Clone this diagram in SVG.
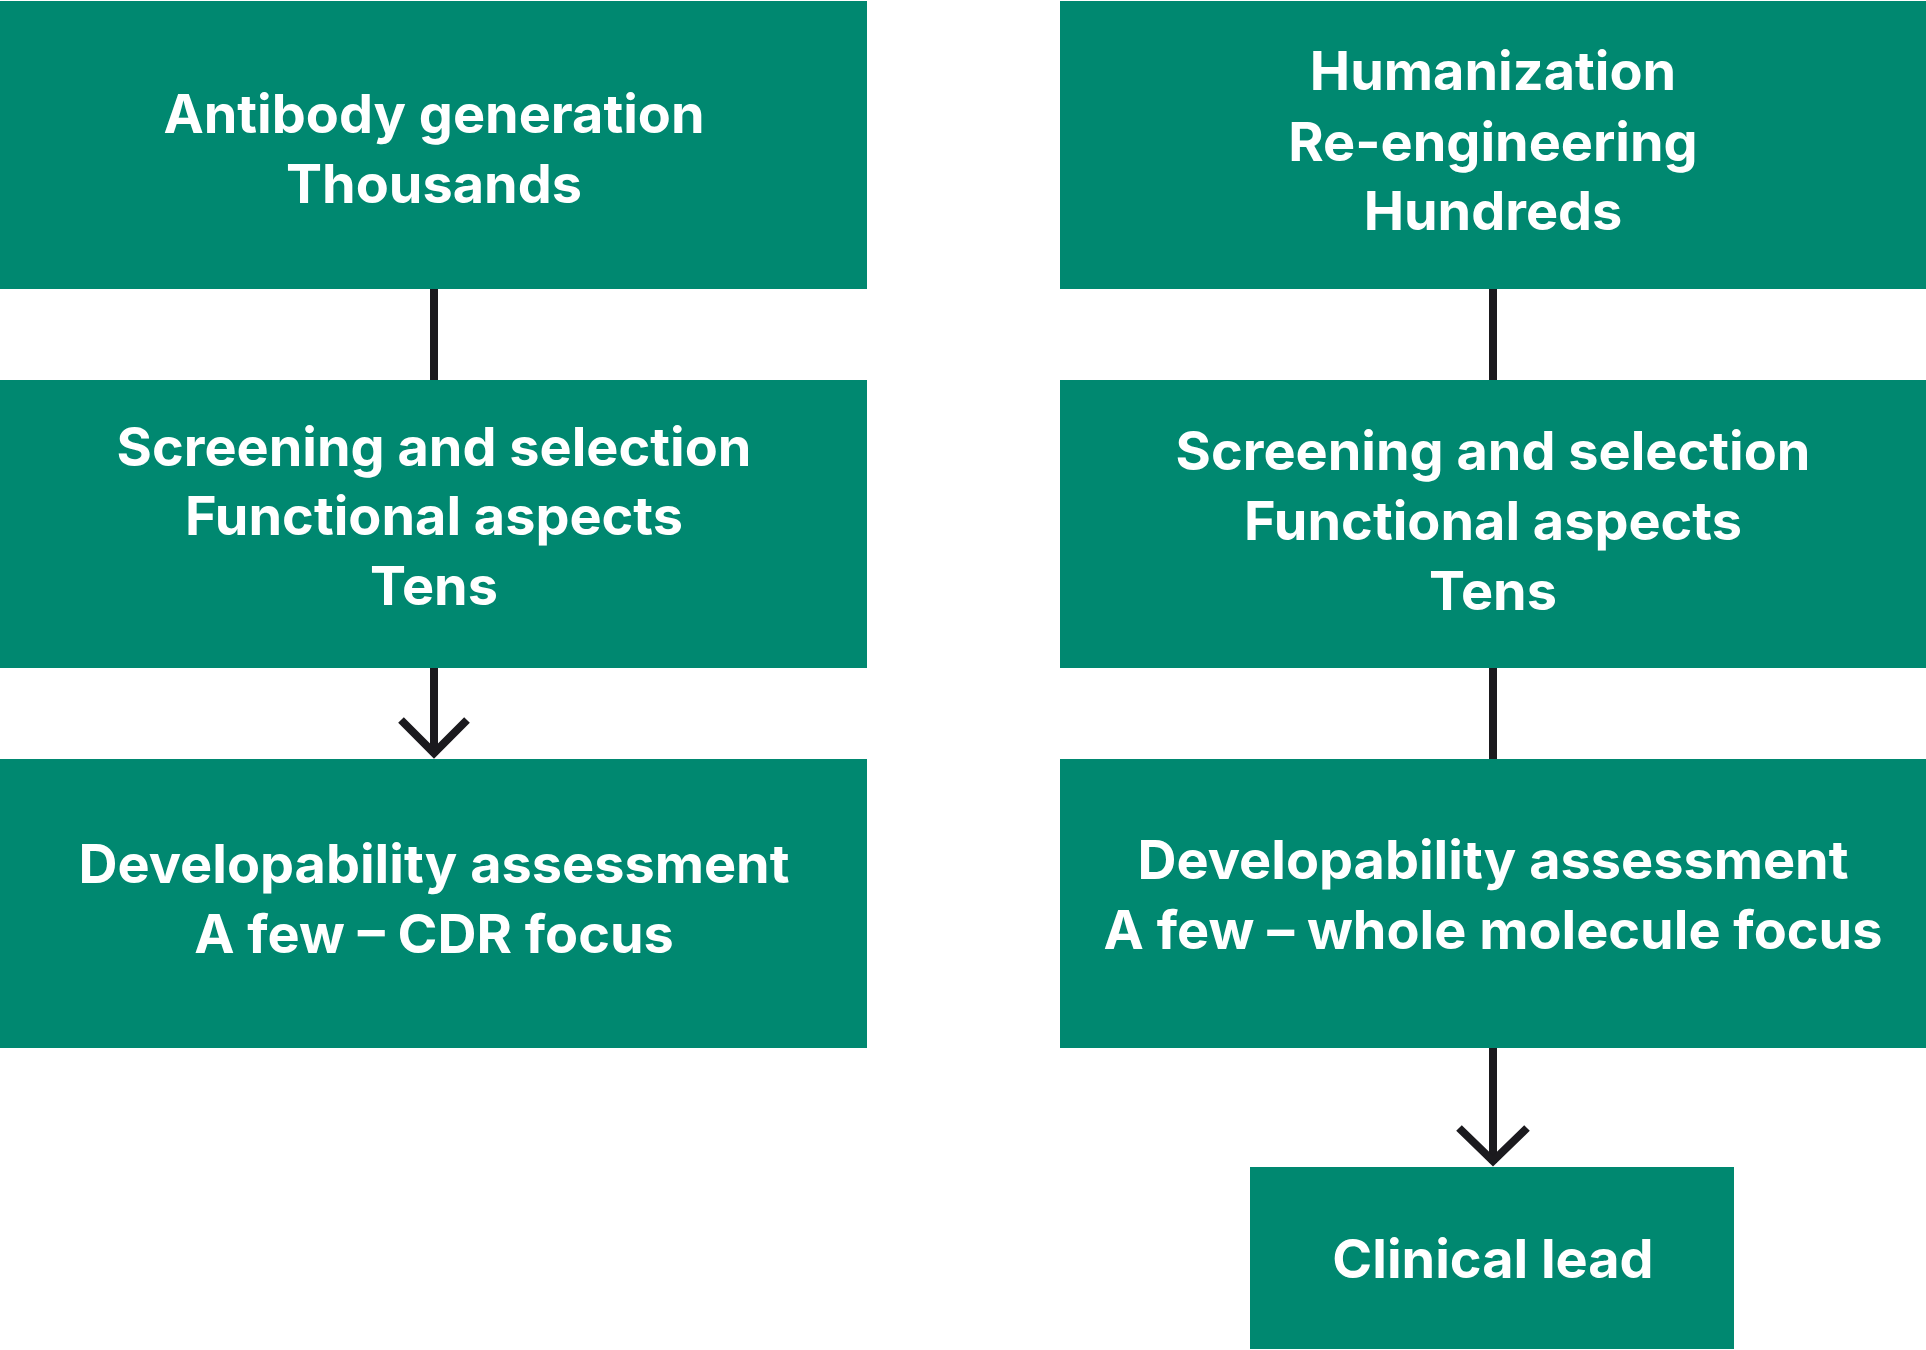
<svg xmlns="http://www.w3.org/2000/svg" width="1926" height="1350" viewBox="0 0 1926 1350">
<style>
.box{fill:#008870}
.t{fill:#ffffff;font-family:Inter,"Noto Sans",sans-serif;font-weight:700;font-size:54px;text-anchor:middle}
.c{stroke:#1b1a1e;stroke-width:8;fill:none;stroke-linejoin:miter;stroke-linecap:butt}
</style>
<rect width="1926" height="1350" fill="#ffffff"/>
<g id="connectors">
<line class="c" x1="434" y1="289" x2="434" y2="380"/>
<line class="c" x1="434" y1="668" x2="434" y2="755"/>
<polyline class="c" points="401,720 434,753 467,720"/>
<line class="c" x1="1493" y1="289" x2="1493" y2="380"/>
<line class="c" x1="1493" y1="668" x2="1493" y2="759"/>
<line class="c" x1="1493" y1="1048" x2="1493" y2="1163"/>
<polyline class="c" points="1459,1128 1493,1161 1527,1128"/>
</g>
<g id="n1"><rect class="box" x="0" y="1" width="867" height="288"/>
<text class="t" x="434" y="133">Antibody generation</text>
<text class="t" x="434" y="203">Thousands</text></g>
<g id="n2"><rect class="box" x="0" y="380" width="867" height="288"/>
<text class="t" x="434" y="466">Screening and selection</text>
<text class="t" x="434" y="535">Functional aspects</text>
<text class="t" x="434" y="605">Tens</text></g>
<g id="n3"><rect class="box" x="0" y="759" width="867" height="289"/>
<text class="t" x="434" y="883">Developability assessment</text>
<text class="t" x="434" y="953">A few – CDR focus</text></g>
<g id="n4"><rect class="box" x="1060" y="1" width="866" height="288"/>
<text class="t" x="1493" y="90">Humanization</text>
<text class="t" x="1493" y="161">Re-engineering</text>
<text class="t" x="1493" y="230">Hundreds</text></g>
<g id="n5"><rect class="box" x="1060" y="380" width="866" height="288"/>
<text class="t" x="1493" y="470">Screening and selection</text>
<text class="t" x="1493" y="540">Functional aspects</text>
<text class="t" x="1493" y="610">Tens</text></g>
<g id="n6"><rect class="box" x="1060" y="759" width="866" height="289"/>
<text class="t" x="1493" y="879">Developability assessment</text>
<text class="t" x="1493" y="949">A few – whole molecule focus</text></g>
<g id="n7"><rect class="box" x="1250" y="1167" width="484" height="182"/>
<text class="t" x="1493" y="1278">Clinical lead</text></g>
</svg>
